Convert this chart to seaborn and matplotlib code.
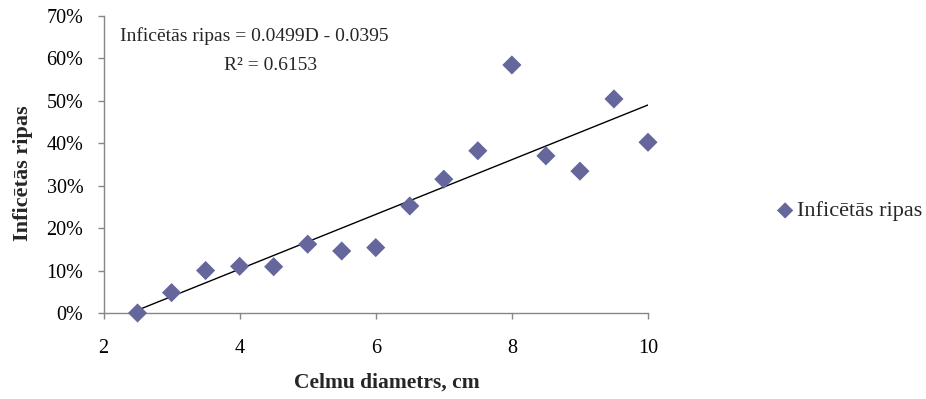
import numpy as np
import pandas as pd
import matplotlib
matplotlib.use("Agg")
import matplotlib.pyplot as plt
import seaborn as sns
from matplotlib.ticker import PercentFormatter

# ---- data ----
diam = [2.5, 3.0, 3.5, 4.0, 4.5, 5.0, 5.5, 6.0, 6.5, 7.0, 7.5, 8.0, 8.5, 9.0, 9.5, 10.0]
infected = [0.000, 0.048, 0.100, 0.110, 0.109, 0.162, 0.146, 0.154, 0.252, 0.315,
            0.382, 0.584, 0.370, 0.334, 0.504, 0.402]
x_ticks = [2, 4, 6, 8, 10]
y_ticks = [0.0, 0.1, 0.2, 0.3, 0.4, 0.5, 0.6, 0.7]
series_name = "Inficētās ripas"
eq_text = "Inficētās ripas = 0.0499D - 0.0395"
r2_text = "R² = 0.6153"
x_title = "Celmu diametrs, cm"
y_title = "Inficētās ripas"

df = pd.DataFrame({"diam": diam, "inf": infected})

sns.set_style("white")
plt.rcParams["font.family"] = ["Liberation Serif", "DejaVu Serif"]
plt.rcParams["font.size"] = 14

W, H = 926, 399
fig = plt.figure(figsize=(W / 100, H / 100), dpi=100)
ax = fig.add_axes([103.5 / W, 1 - 313 / H, (648 - 103.5) / W, (313 - 15.7) / H])

sns.regplot(data=df, x="diam", y="inf", scatter=False, ci=None, ax=ax,
            line_kws=dict(color="black", lw=1.0))
sns.scatterplot(data=df, x="diam", y="inf", ax=ax, marker="D", s=95,
                color="#65669C", edgecolor="none", linewidth=0,
                label=series_name, zorder=3, clip_on=False)

ax.set_xlim(2, 10)
ax.set_ylim(0, 0.7)
ax.set_xticks(x_ticks)
ax.set_yticks(y_ticks)
ax.yaxis.set_major_formatter(PercentFormatter(1.0, decimals=0))

for s in ["top", "right"]:
    ax.spines[s].set_visible(False)
for s in ["left", "bottom"]:
    ax.spines[s].set_color("#868686")
    ax.spines[s].set_linewidth(1.0)
ax.tick_params(axis="both", direction="out", length=4.5, width=1.0,
               color="#868686", labelsize=14.5, labelcolor="black")
ax.tick_params(axis="y", pad=10)
ax.tick_params(axis="x", pad=14)
ax.tick_params(left=True, bottom=True)

ax.set_xlabel(x_title, fontsize=15.5, fontweight="bold")
ax.set_ylabel(y_title, fontsize=16, fontweight="bold")
ax.xaxis.set_label_coords((387 - 103.5) / (648 - 103.5), (313 - 383) / (313 - 15.7))
ax.xaxis.label.set_va("center")
ax.yaxis.set_label_coords((23 - 103.5) / (648 - 103.5), (313 - 173) / (313 - 15.7))
ax.yaxis.label.set_va("center")

fig.text(254 / W, 1 - 36 / H, eq_text, ha="center", va="center", fontsize=14)
fig.text(271 / W, 1 - 65 / H, r2_text, ha="center", va="center", fontsize=14)

ax.legend(loc="center left", bbox_to_anchor=(774 / W, 1 - 211 / H),
          bbox_transform=fig.transFigure, frameon=False, handletextpad=0.05,
          handlelength=1.0, borderpad=0, borderaxespad=0, fontsize=16,
          markerscale=0.85)

fig.savefig("out.png", dpi=100)
